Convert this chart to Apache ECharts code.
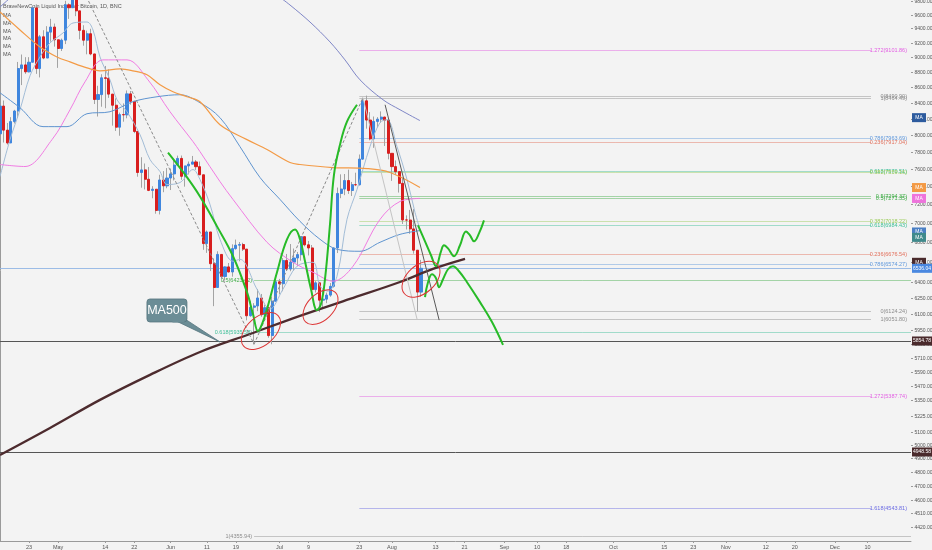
<!DOCTYPE html>
<html><head><meta charset="utf-8">
<script src="https://cdn.jsdelivr.net/npm/echarts@6/dist/echarts.min.js"></script>
<style>html,body{margin:0;padding:0;background:#f3f3f3;}#chart{width:932px;height:550px;}</style>
</head><body><div id="chart"></div>
<script>
// ---------- categories: one per day, 15 Apr 2018 .. 22 Dec 2018 ----------
const startDate = Date.UTC(2018, 3, 15);
const dayCount = 252;
const categories = [];
for (let i = 0; i < dayCount; i++) categories.push(new Date(startDate + i * 86400000).toISOString().slice(0, 10));
const lastDay = dayCount - 1;

// ---------- daily candles [open, close, low, high] from 15 Apr ----------
const ohlc = [
[8013,8357,8013,8397],[8357,8058,7908,8428],[8058,7903,7884,8146],[7903,8163,7903,8218],[8163,8295,8140,8310],
[8295,8846,8208,8935],[8846,8895,8627,9036],[8895,8802,8775,9000],[8802,8931,8795,9000],[8931,9697,8931,9732],
[9697,8846,8775,9746],[8846,9282,8728,9308],[9282,8988,8972,9375],[8988,9348,8988,9433],[9348,9420,9214,9538],
[9420,9240,9145,9470],[9240,9119,8855,9240],[9119,9235,9084,9257],[9235,9743,9180,9802],[9743,9700,9537,9765],
[9700,9858,9697,9965],[9858,9654,9577,9939],[9654,9373,9247,9654],[9373,9234,9158,9446],[9234,9325,9039,9369],
[9325,9044,9026,9396],[9044,8441,8383,9044],[8441,8504,8226,8618],[8504,8723,8349,8770],[8723,8716,8330,8881],
[8716,8510,8462,8836],[8510,8368,8113,8510],[8368,8094,8048,8456],[8094,8250,7990,8275],[8250,8247,8162,8391],
[8247,8513,8204,8557],[8513,8418,8375,8550],[8418,8042,8021,8418],[8042,7557,7509,8042],[7557,7587,7385,7734],
[7587,7480,7366,7661],[7480,7355,7347,7620],[7355,7368,7268,7402],[7368,7135,7100,7368],[7135,7472,7092,7531],
[7472,7406,7335,7573],[7406,7494,7379,7608],[7494,7541,7359,7603],[7541,7643,7467,7701],[7643,7720,7633,7753],
[7720,7514,7474,7754],[7514,7633,7397,7633],[7633,7653,7535,7684],[7653,7679,7653,7749],[7679,7624,7587,7702],
[7624,7531,7531,7684],[7531,6786,6722,7531],[6786,6906,6691,6921],[6906,6582,6509,6906],[6582,6349,6172,6634],
[6349,6675,6347,6707],[6675,6456,6431,6675],[6456,6550,6416,6555],[6550,6500,6495,6589],[6500,6734,6454,6778],
[6734,6769,6723,6827],[6769,6776,6606,6802],[6776,6729,6710,6794],[6729,6083,6041,6729],[6083,6162,6074,6223],
[6162,6174,5826,6200],[6174,6249,6125,6333],[6249,6093,6073,6287],[6093,6157,6068,6186],[6157,5903,5884,6165],
[5903,6218,5826,6261],[6218,6404,6218,6470],[6404,6385,6284,6432],[6385,6614,6313,6638],[6614,6529,6513,6680],
[6529,6598,6507,6781],[6598,6639,6512,6735],[6639,6673,6557,6700],[6673,6857,6612,6862],[6857,6773,6757,6859],
[6773,6741,6665,6812],[6741,6329,6325,6771],[6329,6394,6301,6410],[6394,6228,6117,6403],[6228,6238,6156,6329],
[6238,6276,6200,6300],[6276,6360,6260,6392],[6360,6741,6348,6743],[6741,7321,6689,7387],[7321,7370,7269,7536],
[7370,7466,7302,7540],[7466,7354,7316,7590],[7354,7419,7293,7450],[7419,7418,7403,7555],[7418,7712,7410,7766],
[7712,8424,7705,8464.49],[8424,8182,8076,8490.90],[8182,7952,7935,8281],[7952,8165,7845,8226],[8165,8193,8093,8218],
[8193,8219,8147,8290],[8219,8180,7867,8223],[8180,7780,7709,8180],[7780,7625,7462,7780],[7625,7567,7528,7696],
[7567,7434,7331,7567],[7434,7033,6990,7497],[7033,7032,6932,7082],[7032,6938,6887,7141],[6938,6718,6683,7150],
[6718,6305,6124.24,6718],[6305,6536.04,6261,6620]
];

// ---------- axis ticks ----------
const xTickDates = ['2018-04-23','2018-05-01','2018-05-14','2018-05-22','2018-06-01','2018-06-11','2018-06-19','2018-07-01','2018-07-09','2018-07-23','2018-08-01','2018-08-13','2018-08-21','2018-09-01','2018-09-10','2018-09-18','2018-10-01','2018-10-15','2018-10-23','2018-11-01','2018-11-12','2018-11-20','2018-12-01','2018-12-10'];
const xTickTexts = ['23','May','14','22','Jun','11','19','Jul','9','23','Aug','13','21','Sep','10','18','Oct','15','23','Nov','12','20','Dec','10'];
const yTicks = [9800,9600,9400,9200,9000,8800,8600,8400,8200,8000,7800,7600,7400,7200,7000,6800,6600,6400,6250,6100,5950,5830,5710,5590,5470,5350,5225,5100,5000,4900,4800,4700,4600,4510,4420];

// ---------- moving averages: [day index, price] ----------
const maFast = [[0,7511],[2.76,7943],[5.51,8311],[8.27,8750],[11.02,9003],[13.78,9196],[17.36,9336],[20.11,9478],[23.97,9492],[25.62,9378],[27.55,9003],[30.31,8696],[32.24,8438],[34.99,8286],[38.57,8003],[41.33,7707],[44.08,7568],[46.01,7421],[49.59,7443],[53.18,7591],[55.10,7477],[57.86,7200],[60.61,6830],[64.20,6606],[66.12,6626],[70.81,6333],[74.39,6144],[77.97,6333],[81.83,6557],[86.24,6596],[88.17,6362],[90.37,6314],[92.85,6458],[95.60,7039],[98.36,7365],[101.94,7860],[104.70,8150],[106.63,8187],[109.38,7860],[112.14,7477],[114.34,7114],[115.72,6933]];
const maPink = [[0,7649],[6.89,7626],[14.33,7943],[19.29,8311],[23.42,8670],[28.38,8963],[34.99,8963],[40.78,8696],[46.84,8286],[53.18,7919],[55.10,7800],[60.61,7454],[64.20,7255],[73.56,6799],[80.73,6596],[86.24,6497],[91.75,6410],[97.26,6557],[104.70,7039],[110.21,7233],[115.72,7266]];
const maBlue = [[0,8527],[5.51,8336],[11.85,8101],[18.46,8101],[23.97,8261],[30.31,8286],[36.64,8413],[43.26,8476],[49.59,8502],[55.10,8400],[60.61,8212],[66.12,7859],[71.64,7500],[77.15,7255],[82.66,7018],[88.17,6830],[92.85,6727],[99.19,6707],[104.70,6799],[110.21,6881],[115.72,6921]];
const maOrange = [[0,9637],[5.51,9378],[11.02,9140],[15.70,9003],[19.29,8936],[23.97,8855],[27.55,8816],[33.06,8842],[36.64,8816],[40.50,8763],[44.08,8631],[47.66,8540],[51.52,8476],[55.10,8413],[60.61,8125],[68.05,7943],[73.56,7824],[79.90,7672],[82.66,7649],[91.75,7614],[101.12,7602],[107.45,7557],[115.72,7387]];
const maSlowStart = [[0,9710],[3.5,9880]];
const maSlowEnd = [[76.5,9880],[79.9,9740],[85.41,9492],[90.92,9210],[95.05,8963],[99.19,8696],[105.52,8438],[110.21,8311],[115.72,8175]];
const ma500 = [[0,4926],[13.78,5132],[27.55,5355],[41.33,5562],[55.10,5758],[68.88,5917],[82.66,6082],[96.43,6240],[110.21,6402],[119.30,6530],[128.12,6630]];

// ---------- fibonacci levels ----------
const fib1Levels = ['0','0.236','0.382','0.5','0.618','0.786','1','1.272'];
const fib1Values = [6124.24,6676.54,7018.22,7294.37,7570.51,7963.69,8464.49,9101.86];
const fib2Levels = ['0','0.236','0.382','0.5','0.618','0.786','1','1.272','1.618'];
const fib2Values = [8490.90,7917.04,7559.16,7271.35,6984.43,6574.27,6051.80,5387.74,4543.81];
const fib3Levels = ['0.5','0.618','1'];
const fib3Values = [6423.42,5935.58,4355.94];
const fibRightStart = 99;
const fibLeftStart = 70;

// ---------- horizontal levels ----------
const lastPrice = 6536.04;
const supportLevels = [5854.78, 4948.58];

// ---------- drawings: [day index, price] ----------
const greenA = [[46.29,7789],[50.97,7534],[55.10,7288],[59.79,6965],[64.20,6657],[68.05,6304],[69.71,6098],[71.08,5944],[72.19,6007],[73.56,6144],[76.32,6497],[79.07,6830],[81.28,6933],[82.66,6830],[84.03,6606],[85.69,6333],[87.34,6135],[88.44,6191],[89.54,6429],[90.92,6986],[92.02,7534],[93.68,7883],[95.60,8162],[98.36,8374]];
const greenB = [[115.17,6975],[117.10,6809],[118.75,6667],[120.13,6557],[121.50,6707],[122.33,6768],[123.43,6737],[125.09,6657],[126.74,6768],[128.39,6912],[129.49,6871],[130.60,6809],[131.97,6891],[133.35,7028]];
const greenC = [[117.10,6257],[117.92,6400],[119.02,6478],[120.13,6439],[120.95,6352],[122.06,6429],[123.43,6527],[124.81,6557],[126.46,6507],[128.67,6400],[132.25,6210],[135.56,6025],[138.59,5820]];
const darkTrend = [[106.1,8374],[121.0,6043]];
const fibConnector = [[100,8464.49],[114.9,6052]];
const dashedDown = [[22,10070],[70,5826]];
const dashedUp = [[70,5826],[100,8464.49]];
const circleCenters = [[71.9,5944],[88.3,6163],[116.0,6429]];
const calloutTip = [[60.6,5846]];

// ---------- right-axis badges ----------
const badgeValues = [8212,7387,7266,6906,6850,6596,6536.04,5854.78,4948.58];
const badgeTexts = ['MA','MA','MA','MA','MA','MA','6536.04','5854.78','4948.58'];

// ---------- styles ----------
const FONT = 'Liberation Sans, Arial, sans-serif';
const fibColors = {'0':'#8c8c8c','1':'#8c8c8c','0.236':'#e2705c','0.382':'#9acb58','0.5':'#43ad4a','0.618':'#3dbf98','0.786':'#5f98dc','1.272':'#e35de3','1.618':'#6b6be3'};
const badgeColors = ['#2d5b9e','#f39a45','#ee74dc','#4a7fc4','#3f8a8c','#4a2a2c','#4a88e0','#4a2a2c','#4a2a2c'];
const circleShapes = [{rx:23,ry:14,rot:0.72},{rx:21,ry:13,rot:0.78},{rx:22,ry:14,rot:0.72}];

function crisp(v){ return Math.round(v) + 0.5; }
function txt(x, y, text, fill, size, align, valign, weight){
  return {type:'text', style:{x, y, text, fill, fontSize:size, fontFamily:FONT, fontWeight:weight||'normal', align, verticalAlign:valign, textAlign:align, textVerticalAlign:valign}};
}

function maLine(data, color, width, z){
  return {type:'line', xAxisIndex:1, yAxisIndex:0, data, smooth:0.35, symbol:'none', silent:true, z:z||4,
    lineStyle:{color, width}};
}
function drawLine(data, color, width, dash, smooth){
  return {type:'line', xAxisIndex:1, yAxisIndex:0, data, smooth:smooth||false, symbol:'none', silent:true, z:6,
    lineStyle:{color, width, type: dash ? [3,2] : 'solid'}};
}
function hlineSeries(rows, color, width, opacity, z){
  return {type:'custom', xAxisIndex:1, yAxisIndex:0, silent:true, z:z||2, data:rows,
    renderItem(params, api){
      const p0 = api.coord([api.value(0), api.value(1)]);
      const x1 = api.coord([lastDay, api.value(1)])[0];
      const y = crisp(p0[1]);
      return {type:'line', shape:{x1:p0[0], y1:y, x2:x1, y2:y}, style:{stroke:color, lineWidth:width, opacity}};
    }};
}
function fibSeries(levels, values, startDay, side){
  return {type:'custom', xAxisIndex:1, yAxisIndex:0, silent:true, z:2,
    data: values.map(v => [startDay, v]),
    renderItem(params, api){
      const i = params.dataIndex;
      const col = fibColors[levels[i]];
      const p0 = api.coord([api.value(0), api.value(1)]);
      const x1 = api.coord([lastDay, api.value(1)])[0];
      const y = crisp(p0[1]);
      const label = levels[i] + '(' + values[i].toFixed(2) + ')';
      const lx = side === 'right' ? x1 - 4 : p0[0] - 2;
      return {type:'group', children:[
        {type:'line', shape:{x1:p0[0], y1:y, x2:side==='right' ? x1 - 40 : x1, y2:y}, style:{stroke:col, lineWidth:1, opacity:0.45}},
        txt(lx, y, label, col, 5.5, 'right', 'middle')
      ]};
    }};
}

const chart = echarts.init(document.getElementById('chart'), null, {renderer:'canvas'});
const option = {
  backgroundColor:'#f3f3f3',
  animation:false,
  textStyle:{fontFamily:FONT},
  grid:{left:0, right:21, top:0, bottom:9, containLabel:false},
  xAxis:[
    {type:'category', data:categories, boundaryGap:false,
     axisLine:{show:true, lineStyle:{color:'#9a9a9a', width:1}},
     axisTick:{show:true, length:2, inside:false, interval:(i,v)=>xTickDates.includes(v), lineStyle:{color:'#9a9a9a'}},
     axisLabel:{show:true, interval:(i,v)=>xTickDates.includes(v), formatter:v=>xTickTexts[xTickDates.indexOf(v)] || '', fontSize:5.5, color:'#555', margin:3, fontFamily:FONT, hideOverlap:false},
     splitLine:{show:false}},
    {type:'value', min:0, max:lastDay, show:false, splitLine:{show:false}}
  ],
  yAxis:[{type:'log', logBase:10, min:4324.3, max:9814.1, position:'right',
    axisLine:{show:true, lineStyle:{color:'#9a9a9a', width:1}},
    axisTick:{show:false}, axisLabel:{show:false}, splitLine:{show:false}}],
  graphic:[
    {type:'text', left:3, top:3, style:{text:'BraveNewCoin Liquid Index for Bitcoin, 1D, BNC', fill:'#555', fontSize:5.5, fontFamily:FONT}},
    {type:'text', left:3, top:12.5, style:{text:'MA', fill:'#555', fontSize:5.5, fontFamily:FONT}},
    {type:'text', left:3, top:20.3, style:{text:'MA', fill:'#555', fontSize:5.5, fontFamily:FONT}},
    {type:'text', left:3, top:28.1, style:{text:'MA', fill:'#555', fontSize:5.5, fontFamily:FONT}},
    {type:'text', left:3, top:35.9, style:{text:'MA', fill:'#555', fontSize:5.5, fontFamily:FONT}},
    {type:'text', left:3, top:43.7, style:{text:'MA', fill:'#555', fontSize:5.5, fontFamily:FONT}},
    {type:'text', left:3, top:51.5, style:{text:'MA', fill:'#555', fontSize:5.5, fontFamily:FONT}}
  ],
  series:[
    hlineSeries([[0,lastPrice]], '#92b6e4', 1, 0.9, 1),
    hlineSeries(supportLevels.map(v=>[0,v]), '#555555', 1, 1, 2),
    fibSeries(fib3Levels, fib3Values, fibLeftStart, 'left'),
    fibSeries(fib1Levels, fib1Values, fibRightStart, 'right'),
    fibSeries(fib2Levels, fib2Values, fibRightStart, 'right'),
    {type:'candlestick', xAxisIndex:0, yAxisIndex:0, data:ohlc.map(d=>[d[0],d[1],d[2],d[3]]), barWidth:1, silent:true, z:3,
     itemStyle:{color:'#a3a3a3', color0:'#a3a3a3', borderColor:'#a3a3a3', borderColor0:'#a3a3a3', borderWidth:1}},
    {type:'candlestick', xAxisIndex:0, yAxisIndex:0, data:ohlc.map(d=>[d[0],d[1],Math.min(d[0],d[1]),Math.max(d[0],d[1])]), barWidth:2.6, silent:true, z:3,
     itemStyle:{color:'#3f86de', color0:'#d81e1e', borderColor:'#3f86de', borderColor0:'#d81e1e', borderWidth:1}},
    maLine(maFast, '#a2bcd6', 1),
    maLine(maPink, '#f07ce2', 1),
    maLine(maBlue, '#5f94cf', 1),
    maLine(maOrange, '#f39a45', 1.2),
    maLine(maSlowStart, '#7f86c6', 1),
    maLine(maSlowEnd, '#7f86c6', 1),
    maLine(ma500, '#4d2b2e', 2.3, 5),
    drawLine(dashedDown, '#8a8a8a', 1, true),
    drawLine(dashedUp, '#8a8a8a', 1, true),
    drawLine(fibConnector, '#c4c4c4', 1, false),
    drawLine(darkTrend, '#5a5a5a', 1, false),
    drawLine(greenA, '#27bb27', 2, false, 0.4),
    drawLine(greenB, '#27bb27', 2, false, 0.4),
    drawLine(greenC, '#27bb27', 2, false, 0.4),
    {type:'custom', xAxisIndex:1, yAxisIndex:0, silent:true, z:7, data:circleCenters,
     renderItem(params, api){
       const c = api.coord([api.value(0), api.value(1)]);
       const s = circleShapes[params.dataIndex];
       return {type:'ellipse', x:c[0], y:c[1], rotation:s.rot, shape:{cx:0, cy:0, rx:s.rx, ry:s.ry}, style:{fill:'none', stroke:'#dd3535', lineWidth:1}};
     }},
    {type:'custom', xAxisIndex:1, yAxisIndex:0, silent:true, z:8, data:calloutTip,
     renderItem(params, api){
       const t = api.coord([api.value(0), api.value(1)]);
       const bx = t[0] - 73, by = t[1] - 43;
       return {type:'group', children:[
         {type:'polygon', shape:{points:[[bx+25,by+20],[bx+38,by+20],[t[0],t[1]]]}, style:{fill:'#6b8d96', stroke:'#56757d', lineWidth:0.8}},
         {type:'rect', shape:{x:bx, y:by, width:40, height:23, r:3}, style:{fill:'#6b8d96', stroke:'#56757d', lineWidth:0.8}},
         {type:'polygon', shape:{points:[[bx+25.5,by+21],[bx+37.5,by+21],[bx+37.5,by+23.5],[bx+25.5,by+23.5]]}, style:{fill:'#6b8d96'}},
         txt(bx+20, by+11.5, 'MA500', '#ffffff', 12.5, 'center', 'middle')
       ]};
     }},
    {type:'custom', xAxisIndex:1, yAxisIndex:0, silent:true, z:9, data:yTicks.map(v=>[lastDay, v]),
     renderItem(params, api){
       const p = api.coord([api.value(0), api.value(1)]);
       const y = crisp(p[1]);
       return {type:'group', children:[
         {type:'line', shape:{x1:p[0], y1:y, x2:p[0]+2, y2:y}, style:{stroke:'#9a9a9a', lineWidth:1}},
         txt(p[0]+3.5, y, yTicks[params.dataIndex].toFixed(2), '#555', 5, 'left', 'middle')
       ]};
     }},
    {type:'custom', xAxisIndex:1, yAxisIndex:0, silent:true, z:10, data:badgeValues.map(v=>[lastDay, v]),
     renderItem(params, api){
       const p = api.coord([api.value(0), api.value(1)]);
       const i = params.dataIndex;
       const isMA = badgeTexts[i] === 'MA';
       const w = isMA ? 14 : 20;
       return {type:'group', children:[
         {type:'rect', shape:{x:p[0]+1, y:p[1]-4.5, width:w, height:9}, style:{fill:badgeColors[i]}},
         txt(p[0]+1+w/2, p[1], badgeTexts[i], '#ffffff', 5, 'center', 'middle')
       ]};
     }}
  ]
};
chart.setOption(option);
</script>
</body></html>
